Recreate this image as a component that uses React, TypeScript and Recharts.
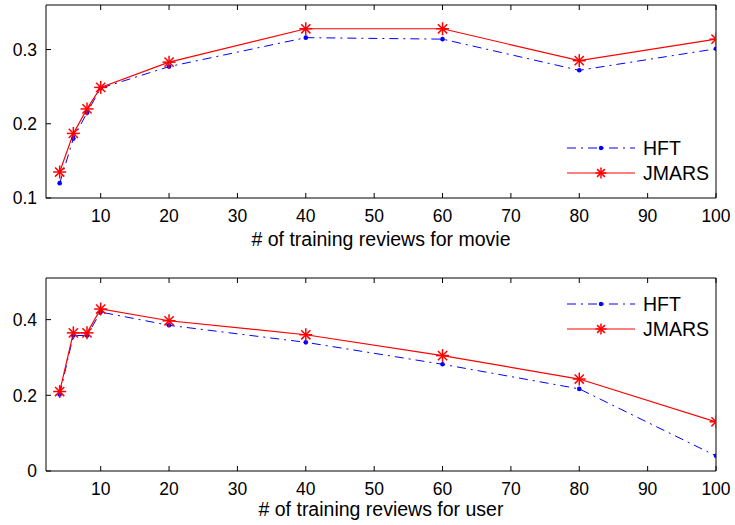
import React from 'react'
import { LineChart, Line, XAxis, YAxis, Legend } from 'recharts'

const reviewCounts = [4, 6, 8, 10, 20, 40, 60, 80, 100]
const xTicks = [10, 20, 30, 40, 50, 60, 70, 80, 90, 100]

const movieHft = [0.12, 0.18, 0.215, 0.248, 0.277, 0.316, 0.314, 0.272, 0.301]
const movieJmars = [0.135, 0.187, 0.22, 0.249, 0.283, 0.328, 0.328, 0.285, 0.314]
const movieYTicks = [0.1, 0.2, 0.3]

const userHft = [0.202, 0.358, 0.358, 0.42, 0.385, 0.34, 0.282, 0.217, 0.04]
const userJmars = [0.21, 0.365, 0.365, 0.428, 0.397, 0.36, 0.305, 0.243, 0.13]
const userYTicks = [0, 0.2, 0.4]

const FONT = '"Liberation Sans", Arial, sans-serif'
const TICK_FS = 17.5
const TEXT_FS = 19.5
const BLUE = '#0000ff'
const RED = '#ff0000'
const HFT_DASH = '9 5 2 5'

const buildRows = (hft: number[], jmars: number[]) =>
  reviewCounts.map((x, i) => ({ x, hft: hft[i], jmars: jmars[i] }))

const Asterisk = ({ cx, cy, size = 6.5 }: any) => {
  if (cx == null || cy == null) return null
  const d = size * 0.707
  return (
    <g stroke={RED} strokeWidth={1.5}>
      <line x1={cx - size} y1={cy} x2={cx + size} y2={cy} />
      <line x1={cx} y1={cy - size} x2={cx} y2={cy + size} />
      <line x1={cx - d} y1={cy - d} x2={cx + d} y2={cy + d} />
      <line x1={cx - d} y1={cy + d} x2={cx + d} y2={cy - d} />
    </g>
  )
}

const SmallDot = ({ cx, cy }: any) => {
  if (cx == null || cy == null) return null
  return <circle cx={cx} cy={cy} r={2.3} fill={BLUE} />
}

const LegendBox = () => (
  <svg width={170} height={52} style={{ display: 'block' }}>
    <line x1={4} y1={13} x2={72} y2={13} stroke={BLUE} strokeWidth={1} strokeDasharray={HFT_DASH} />
    <circle cx={38} cy={13} r={2.2} fill={BLUE} />
    <text x={80} y={20} fontSize={TEXT_FS} fontFamily={FONT} fill="#000">HFT</text>
    <line x1={4} y1={38} x2={72} y2={38} stroke={RED} strokeWidth={1} />
    <Asterisk cx={38} cy={38} size={5.5} />
    <text x={80} y={45} fontSize={TEXT_FS} fontFamily={FONT} fill="#000">JMARS</text>
  </svg>
)

const tickStyle = { fontSize: TICK_FS, fontFamily: FONT, fill: '#000' }
const titleStyle = { fontSize: TEXT_FS, fontFamily: FONT, fill: '#000' }
const axisLine = { stroke: '#000', strokeWidth: 1 }

type PanelProps = {
  height: number
  top: number
  xHeight: number
  labelOffset: number
  legendTop: number
  hft: number[]
  jmars: number[]
  yDomain: [number, number]
  yTicks: number[]
  title: string
}

const Panel = ({ height, top, xHeight, labelOffset, legendTop, hft, jmars, yDomain, yTicks, title }: PanelProps) => (
  <LineChart
    width={735}
    height={height}
    data={buildRows(hft, jmars)}
    margin={{ top, right: 18, bottom: 0, left: 0 }}
  >
    <XAxis
      dataKey="x"
      type="number"
      domain={[2, 100]}
      ticks={xTicks}
      allowDataOverflow
      height={xHeight}
      tickSize={-5}
      tickMargin={17}
      tick={tickStyle}
      axisLine={axisLine}
      tickLine={axisLine}
      label={{ value: title, position: 'insideBottom', offset: labelOffset, style: titleStyle }}
    />
    <XAxis
      xAxisId="top"
      dataKey="x"
      type="number"
      orientation="top"
      domain={[2, 100]}
      ticks={xTicks}
      height={1}
      tickSize={-5}
      tickFormatter={() => ''}
      axisLine={axisLine}
      tickLine={axisLine}
    />
    <YAxis
      type="number"
      domain={yDomain}
      ticks={yTicks}
      allowDataOverflow
      width={46}
      tickSize={-5}
      tickMargin={14}
      tick={tickStyle}
      axisLine={axisLine}
      tickLine={axisLine}
    />
    <YAxis
      yAxisId="right"
      type="number"
      orientation="right"
      domain={yDomain}
      ticks={yTicks}
      width={1}
      tickSize={-5}
      tickFormatter={() => ''}
      axisLine={axisLine}
      tickLine={axisLine}
    />
    <Legend
      layout="vertical"
      align="center"
      verticalAlign="middle"
      content={() => <LegendBox />}
      wrapperStyle={{ left: 563, top: legendTop, width: 170 }}
    />
    <Line
      dataKey="hft"
      name="HFT"
      stroke={BLUE}
      strokeWidth={1}
      strokeDasharray={HFT_DASH}
      dot={(p: any) => <SmallDot key={`h${p.index}`} {...p} />}
      activeDot={false}
      isAnimationActive={false}
    />
    <Line
      dataKey="jmars"
      name="JMARS"
      stroke={RED}
      strokeWidth={1.2}
      dot={(p: any) => <Asterisk key={`j${p.index}`} {...p} />}
      activeDot={false}
      isAnimationActive={false}
    />
  </LineChart>
)

const App = () => (
  <div style={{ position: 'absolute', left: 0, top: 0, width: 735, height: 525, background: '#fff' }}>
    <Panel
      height={262}
      top={4}
      xHeight={64}
      labelOffset={16}
      legendTop={135}
      hft={movieHft}
      jmars={movieJmars}
      yDomain={[0.1, 0.36]}
      yTicks={movieYTicks}
      title="# of training reviews for movie"
    />
    <Panel
      height={263}
      top={15}
      xHeight={54}
      labelOffset={9}
      legendTop={29}
      hft={userHft}
      jmars={userJmars}
      yDomain={[0, 0.51]}
      yTicks={userYTicks}
      title="# of training reviews for user"
    />
  </div>
)

export default App
